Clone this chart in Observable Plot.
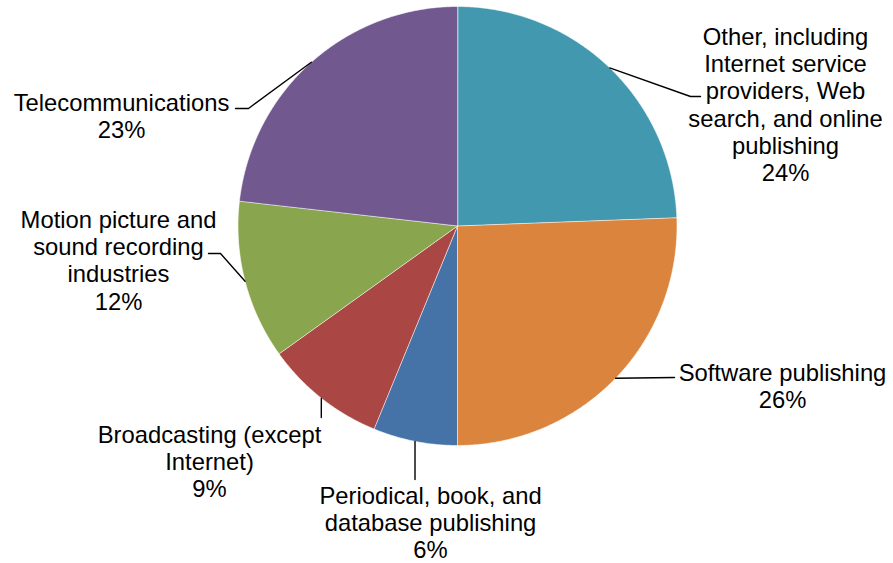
<!DOCTYPE html>
<html>
<head>
<meta charset="utf-8">
<script src="https://cdn.jsdelivr.net/npm/d3@7"></script>
<script src="https://cdn.jsdelivr.net/npm/@observablehq/plot@0.6"></script>
<style>
  html, body { margin: 0; padding: 0; background: #fff; }
  #chart svg { display: block; }
</style>
</head>
<body>
<div id="chart"></div>
<script>
// ---- data (clockwise from 12 o'clock) ----
const keys = ["Other", "Software", "Periodical", "Broadcasting", "Motion", "Telecom"];
const labels = [
  "Other, including\nInternet service\nproviders, Web\nsearch, and online\npublishing",
  "Software publishing",
  "Periodical, book, and\ndatabase publishing",
  "Broadcasting (except\nInternet)",
  "Motion picture and\nsound recording\nindustries",
  "Telecommunications"
];
const shares = [24.4, 25.6, 6.2, 8.9, 11.7, 23.2];
const colors = ["#4198AF", "#DB843D", "#4572A7", "#AA4643", "#89A54E", "#71588F"];

// ---- layout (pixel positions of label blocks and leader elbows) ----
const W = 893, H = 563;
const CX = 457, CY = 225.5, R = 219.5;
const labelAt = [[785, 42], [782, 378], [430, 501], [209, 440], [118, 225], [121, 108]]; // center x, first baseline
const leaderPts = [
  [[690, 96], [700, 96]],
  [[674, 377]],
  [[414.5, 479]],
  [[320.8, 417]],
  [[220, 253], [208, 253]],
  [[248, 108], [235, 108]]
];
const FS = 23.8, LH = 27.2;

// ---- build geometry from values ----
const total = d3.sum(shares);
let acc = 0;
const slices = shares.map((v, i) => {
  const a0 = acc / total * 2 * Math.PI;
  acc += v;
  const a1 = acc / total * 2 * Math.PI;
  return {key: keys[i], a0, a1, mid: (a0 + a1) / 2};
});
const polar = (a, r) => [CX + r * Math.sin(a), CY - r * Math.cos(a)];

const slicePts = [];
slices.forEach(s => {
  slicePts.push({key: s.key, x: CX, y: CY});
  const n = Math.max(2, Math.ceil((s.a1 - s.a0) / (Math.PI / 360)));
  for (let k = 0; k <= n; k++) {
    const a = s.a0 + (s.a1 - s.a0) * k / n;
    const [x, y] = polar(a, R);
    slicePts.push({key: s.key, x, y});
  }
});

const leaderData = [];
slices.forEach((s, i) => {
  const [x0, y0] = polar(s.mid, R);
  leaderData.push({key: s.key, x: x0, y: y0});
  leaderPts[i].forEach(([x, y]) => leaderData.push({key: s.key, x, y}));
});

const textData = slices.map((s, i) => ({
  key: s.key,
  x: labelAt[i][0],
  y: labelAt[i][1] - 0.71 * FS,
  text: labels[i] + "\n" + Math.round(shares[i] / total * 100) + "%"
}));

const plot = Plot.plot({
  width: W,
  height: H,
  margin: 0,
  x: {domain: [0, W], range: [0, W], axis: null},
  y: {domain: [0, H], range: [0, H], axis: null},
  color: {domain: keys, range: colors},
  style: {background: "#fff", fontFamily: "'Liberation Sans', Arial, sans-serif"},
  marks: [
    Plot.line(slicePts, {x: "x", y: "y", z: "key", fill: "key", stroke: "#ffffff", strokeWidth: 0.8, strokeOpacity: 0.7, curve: "linear-closed"}),
    Plot.line(leaderData, {x: "x", y: "y", z: "key", stroke: "#000", strokeWidth: 1.4, curve: "linear"}),
    Plot.text(textData, {x: "x", y: "y", text: "text", fontSize: FS, lineHeight: LH / FS, lineAnchor: "top", textAnchor: "middle", fill: "#000", fontFamily: "'Liberation Sans', Arial, sans-serif"})
  ]
});
document.getElementById("chart").appendChild(plot);
</script>
</body>
</html>
